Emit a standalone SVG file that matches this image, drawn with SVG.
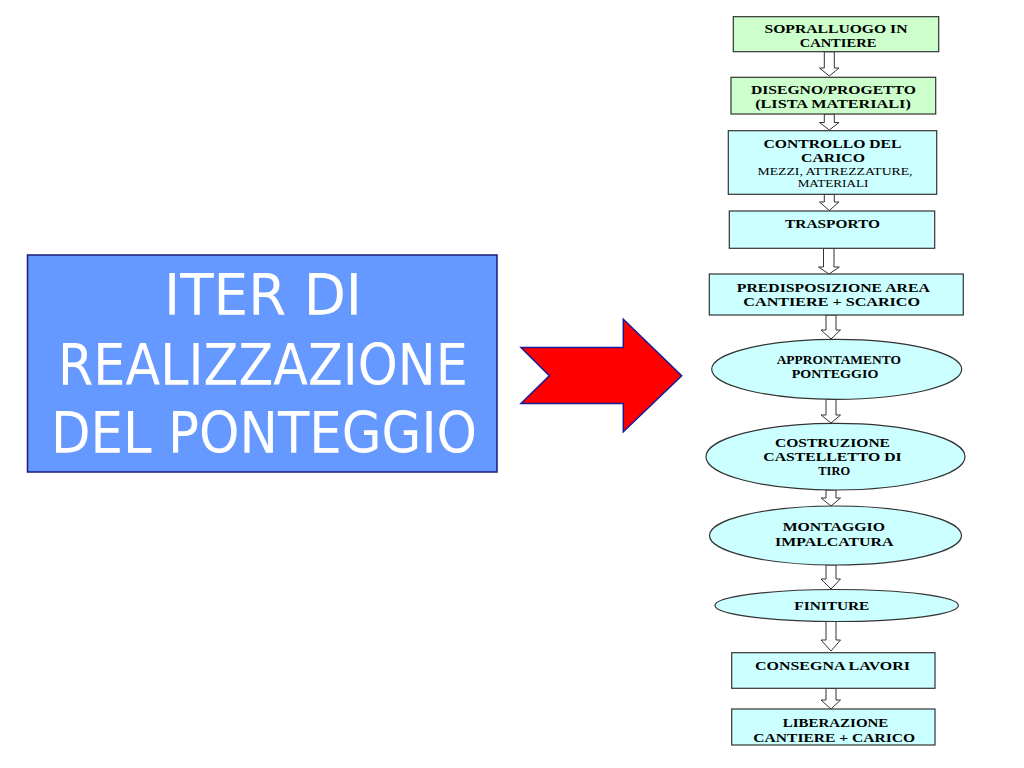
<svg xmlns="http://www.w3.org/2000/svg" width="1024" height="768" viewBox="0 0 1024 768">
<defs>
<style>
.title{font-family:"DejaVu Sans","Liberation Sans",sans-serif;font-size:57px;fill:#ffffff;text-anchor:middle}
.n{font-family:"Liberation Serif","Times New Roman",serif;font-size:13.5px;font-weight:bold;fill:#000000;text-anchor:middle}
.s{font-family:"Liberation Serif","Times New Roman",serif;font-size:10.5px;fill:#000000;text-anchor:middle}
.green{fill:#CCFFCC;stroke:#333333;stroke-width:1.2}
.cyan{fill:#CCFFFF;stroke:#333333;stroke-width:1.2}
.ba{fill:#ffffff;stroke:#333333;stroke-width:1}
</style>
</defs>
<rect width="1024" height="768" fill="#ffffff"/>

<g id="title">
<rect x="27.5" y="255" width="469.5" height="217" fill="#6699FF" stroke="#1a1a80" stroke-width="1.5"/>
<text class="title" x="263" y="315" textLength="198" lengthAdjust="spacingAndGlyphs">ITER DI</text>
<text class="title" x="263" y="385" textLength="410" lengthAdjust="spacingAndGlyphs">REALIZZAZIONE</text>
<text class="title" x="264" y="453" textLength="426" lengthAdjust="spacingAndGlyphs">DEL PONTEGGIO</text>
</g>

<g id="big-arrow">
<polygon points="521,347.5 623.3,347.5 623.3,319.3 681.7,375.7 623.3,431.7 623.3,403.5 521,403.5 549.3,375.7" fill="#FF0000" stroke="#1a1a99" stroke-width="1.5" stroke-linejoin="miter"/>
</g>

<g id="connectors">
<polygon class="ba" points="824.3,51.7 834.3,51.7 834.3,68 839,68 829.3,76 819.5,68 824.3,68"/>
<polygon class="ba" points="824.3,114 834.3,114 834.3,122.5 839,122.5 829.3,130 819.5,122.5 824.3,122.5"/>
<polygon class="ba" points="824.3,194.3 834.3,194.3 834.3,202 839,202 829.3,210.5 819.5,202 824.3,202"/>
<polygon class="ba" points="823.5,248.3 834,248.3 834,267 839.3,267 829,274 818.5,267 823.5,267"/>
<polygon class="ba" points="826,315 836,315 836,330 840.5,330 831,339 821,330 826,330"/>
<polygon class="ba" points="826,399.3 836,399.3 836,415 840.5,415 831,423 821,415 826,415"/>
<polygon class="ba" points="826,490 836,490 836,498 840.5,498 831,506 821,498 826,498"/>
<polygon class="ba" points="826,565 836,565 836,579 840.5,579 831,589 821,579 826,579"/>
<polygon class="ba" points="826,621.5 836,621.5 836,640 840.5,640 831,651 821,640 826,640"/>
<polygon class="ba" points="826,688.3 836,688.3 836,700 840.5,700 831,709 821,700 826,700"/>
</g>

<g id="n1">
<rect class="green" x="733.3" y="16.7" width="205.4" height="35"/>
<text class="n" x="836" y="33.3" textLength="143" lengthAdjust="spacingAndGlyphs">SOPRALLUOGO IN</text>
<text class="n" x="838" y="47.3" textLength="76.7" lengthAdjust="spacingAndGlyphs">CANTIERE</text>
</g>

<g id="n2">
<rect class="green" x="731" y="77.3" width="204.7" height="36.7"/>
<text class="n" x="833.4" y="94" textLength="165" lengthAdjust="spacingAndGlyphs">DISEGNO/PROGETTO</text>
<text class="n" x="833" y="107.8" textLength="155.7" lengthAdjust="spacingAndGlyphs">(LISTA MATERIALI)</text>
</g>

<g id="n3">
<rect class="cyan" x="728.3" y="130.7" width="208.4" height="63.6"/>
<text class="n" x="832.5" y="147.7" textLength="138" lengthAdjust="spacingAndGlyphs">CONTROLLO DEL</text>
<text class="n" x="833" y="161.7" textLength="64" lengthAdjust="spacingAndGlyphs">CARICO</text>
<text class="s" x="835" y="175" textLength="155" lengthAdjust="spacingAndGlyphs">MEZZI, ATTREZZATURE,</text>
<text class="s" x="833" y="186.7" textLength="70.7" lengthAdjust="spacingAndGlyphs">MATERIALI</text>
</g>

<g id="n4">
<rect class="cyan" x="729.3" y="211" width="205.4" height="37.3"/>
<text class="n" x="832.5" y="228.3" textLength="95" lengthAdjust="spacingAndGlyphs">TRASPORTO</text>
</g>

<g id="n5">
<rect class="cyan" x="709.3" y="274" width="254" height="41"/>
<text class="n" x="833.3" y="291.7" textLength="193" lengthAdjust="spacingAndGlyphs">PREDISPOSIZIONE AREA</text>
<text class="n" x="831.7" y="305.7" textLength="176.7" lengthAdjust="spacingAndGlyphs">CANTIERE + SCARICO</text>
</g>

<g id="n6">
<ellipse class="cyan" cx="836.7" cy="369.3" rx="125" ry="30"/>
<text class="n" x="838.8" y="364.3" textLength="124.3" lengthAdjust="spacingAndGlyphs">APPRONTAMENTO</text>
<text class="n" x="835" y="378.3" textLength="86.7" lengthAdjust="spacingAndGlyphs">PONTEGGIO</text>
</g>

<g id="n7">
<ellipse class="cyan" cx="835.5" cy="456.7" rx="129.5" ry="33.3"/>
<text class="n" x="832.5" y="446.7" textLength="115" lengthAdjust="spacingAndGlyphs">COSTRUZIONE</text>
<text class="n" x="832.5" y="461" textLength="138.3" lengthAdjust="spacingAndGlyphs">CASTELLETTO DI</text>
<text class="n" x="834.2" y="475" textLength="31.7" lengthAdjust="spacingAndGlyphs">TIRO</text>
</g>

<g id="n8">
<ellipse class="cyan" cx="835.5" cy="535.5" rx="126" ry="29.5"/>
<text class="n" x="833.8" y="530.7" textLength="102.3" lengthAdjust="spacingAndGlyphs">MONTAGGIO</text>
<text class="n" x="834.2" y="545.7" textLength="118.3" lengthAdjust="spacingAndGlyphs">IMPALCATURA</text>
</g>

<g id="n9">
<ellipse class="cyan" cx="836.7" cy="605.5" rx="121.7" ry="16"/>
<text class="n" x="831.8" y="610" textLength="75" lengthAdjust="spacingAndGlyphs">FINITURE</text>
</g>

<g id="n10">
<rect class="cyan" x="731.7" y="652.7" width="203.3" height="35.6"/>
<text class="n" x="832.5" y="670" textLength="155" lengthAdjust="spacingAndGlyphs">CONSEGNA LAVORI</text>
</g>

<g id="n11">
<rect class="cyan" x="731.7" y="709" width="203.3" height="36"/>
<text class="n" x="835.5" y="726.7" textLength="105.7" lengthAdjust="spacingAndGlyphs">LIBERAZIONE</text>
<text class="n" x="834.2" y="741.7" textLength="161.7" lengthAdjust="spacingAndGlyphs">CANTIERE + CARICO</text>
</g>
</svg>
